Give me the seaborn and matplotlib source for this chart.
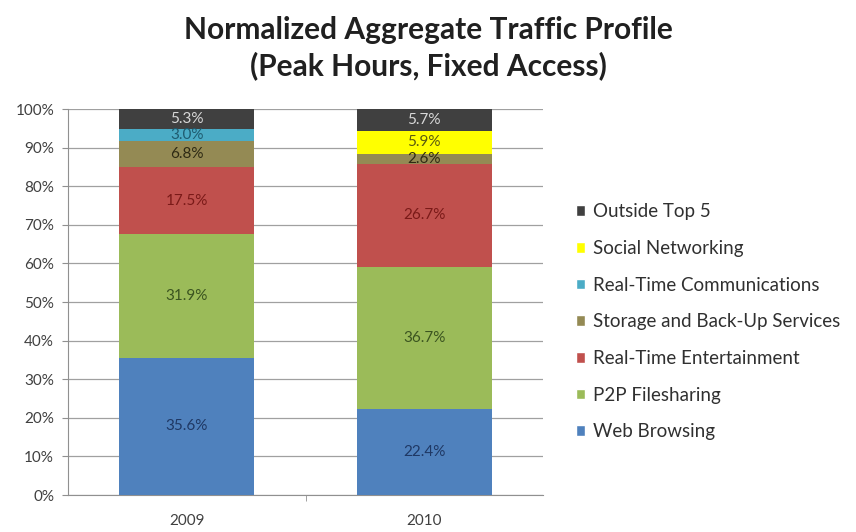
import numpy as np
import pandas as pd
import matplotlib.pyplot as plt
import seaborn as sns
from matplotlib.patches import Patch

years = ["2009", "2010"]
categories = ["Web Browsing", "P2P Filesharing", "Real-Time Entertainment",
              "Storage and Back-Up Services", "Real-Time Communications",
              "Social Networking", "Outside Top 5"]
web = [35.6, 22.4]
p2p = [31.9, 36.7]
rt_ent = [17.5, 26.7]
storage = [6.8, 2.6]
rt_comm = [3.0, 0.0]
social = [0.0, 5.9]
outside = [5.3, 5.7]

colors = ["#4F81BD", "#9BBB59", "#C0504D", "#948A54", "#4BACC6", "#FFFF00", "#404040"]
text_colors = ["#1F3864", "#3B5420", "#7A1A18", "#2E2A14", "#1F5C70", "#5A5A10", "#D8D8D8"]

series = [web, p2p, rt_ent, storage, rt_comm, social, outside]
df = pd.DataFrame({"year": years})
for name, vals in zip(categories, series):
    df[name] = vals
cum = df[categories].cumsum(axis=1)

sns.set_style("white")
plt.rcParams['font.family'] = ['Lato', 'DejaVu Sans']

fig = plt.figure(figsize=(8.56, 5.32), dpi=100)
ax = fig.add_axes([0.0794, 0.0695, 0.555, 0.7255])

# draw from top of stack down so lower segments overlay higher ones
for i in range(len(categories) - 1, -1, -1):
    sns.barplot(x=df["year"], y=cum[categories[i]], color=colors[i],
                width=0.57, saturation=1, linewidth=0, ax=ax, zorder=3)

for b in range(len(years)):
    for i, name in enumerate(categories):
        v = df[name].iloc[b]
        if v <= 0:
            continue
        mid = cum[name].iloc[b] - v / 2
        ax.text(b, mid, f"{v:.1f}%", ha="center", va="center",
                fontsize=11, color=text_colors[i], zorder=5)

ax.set_ylim(0, 100)
ax.set_xlim(-0.5, 1.5)
ax.set_yticks(np.arange(0, 101, 10))
ax.set_yticklabels([f"{t}%" for t in range(0, 101, 10)], fontsize=11, color="#404040")
ax.set_xticks([0, 1])
ax.set_xticks([0.5], minor=True)
ax.set_xticklabels(years, fontsize=11, color="#404040")
ax.set_xlabel("")
ax.set_ylabel("")
ax.yaxis.grid(True, color="#A0A0A0", linewidth=0.9, zorder=0)
ax.set_axisbelow(True)
for s in ["top", "right"]:
    ax.spines[s].set_visible(False)
ax.spines["left"].set_color("#909090")
ax.spines["bottom"].set_color("#909090")
ax.tick_params(axis="y", length=4, color="#909090", direction="out", left=True, pad=6)
ax.tick_params(axis="x", length=0, pad=14)
ax.tick_params(axis="x", which="minor", length=4, color="#909090", direction="out", bottom=True)

handles = [Patch(facecolor=colors[i], label=categories[i]) for i in range(len(categories) - 1, -1, -1)]
fig.legend(handles=handles, loc="center left", bbox_to_anchor=(0.653, 0.395),
           frameon=False, fontsize=13.5, handlelength=0.5, handleheight=0.5,
           handletextpad=0.4, labelspacing=1.05, labelcolor="#303030")

fig.suptitle("Normalized Aggregate Traffic Profile\n(Peak Hours, Fixed Access)",
             fontsize=21.5, fontweight="bold", color="#202020", y=0.97, linespacing=1.3)

fig.savefig("out.png", dpi=100)
